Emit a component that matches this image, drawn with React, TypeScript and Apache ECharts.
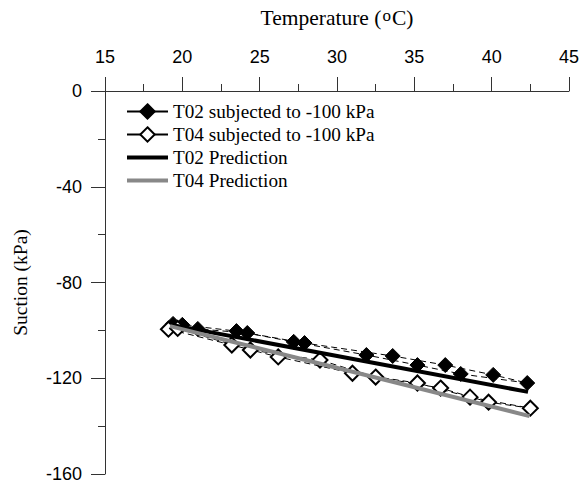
import React, { useEffect, useRef } from "react";
import * as echarts from "echarts";

// Tick values
const temperatureTicks = [15, 20, 25, 30, 35, 40, 45];
const suctionTicks = [0, -40, -80, -120, -160];

// T02 subjected to -100 kPa (measurement order: heating then cooling)
const t02Temperature = [19.4, 21.0, 24.2, 27.9, 33.6, 37.0, 40.1, 42.3, 38.0, 35.2, 31.9, 27.2, 23.5, 20.0];
const t02Suction = [-97.3, -99.4, -101.1, -105.3, -110.7, -114.5, -118.6, -122.0, -118.2, -114.5, -110.3, -104.8, -100.3, -97.7];

// T04 subjected to -100 kPa
const t04Temperature = [19.1, 23.2, 26.2, 31.0, 35.2, 38.6, 42.5, 39.8, 36.7, 32.5, 28.9, 24.4, 19.7];
const t04Suction = [-99.5, -106.1, -111.1, -117.9, -122.0, -127.9, -132.5, -130.0, -124.1, -119.5, -112.4, -108.2, -99.2];

// Predictions
const t02PredTemperature = [19.3, 42.35];
const t02PredSuction = [-97.7, -125.7];
const t04PredTemperature = [19.2, 42.45];
const t04PredSuction = [-98.2, -135.8];

const names = [
  "T02 subjected to -100 kPa",
  "T04 subjected to -100 kPa",
  "T02 Prediction",
  "T04 Prediction",
];

const zip = (xs: number[], ys: number[]) => xs.map((x, i) => [x, ys[i]]);

const SERIF = "'Liberation Serif', 'Times New Roman', serif";
const SANS = "'Liberation Sans', Arial, sans-serif";
const AXIS_COLOR = "#333";

export default function App() {
  const ref = useRef<HTMLDivElement>(null);

  useEffect(() => {
    if (!ref.current) return;
    const chart = echarts.init(ref.current, undefined, { renderer: "svg" });
    chart.setOption({
      animation: false,
      backgroundColor: "#fff",
      grid: {
        left: 105,
        right: 12,
        top: 91,
        bottom: 12,
        containLabel: false,
        outerBoundsMode: "none",
      },
      legend: {
        orient: "vertical",
        left: 120,
        top: 97,
        itemWidth: 41,
        itemHeight: 18,
        itemGap: 4,
        data: [
          { name: names[0] },
          { name: names[1] },
          { name: names[2], itemStyle: { opacity: 0 }, lineStyle: { width: 4 } },
          { name: names[3], itemStyle: { opacity: 0 }, lineStyle: { width: 4 } },
        ],
        lineStyle: { type: "solid" },
        textStyle: { fontFamily: SERIF, fontSize: 19.2, color: "#000" },
      },
      xAxis: {
        type: "value",
        position: "top",
        min: temperatureTicks[0],
        max: temperatureTicks[temperatureTicks.length - 1],
        interval: 5,
        name: "{a|Temperature (}{sup|o}{a|C)}",
        nameLocation: "middle",
        nameGap: 62,
        nameTextStyle: {
          color: "#000",
          rich: {
            a: { fontFamily: SERIF, fontSize: 21.5, color: "#000" },
            sup: { fontFamily: SERIF, fontSize: 17, color: "#000", verticalAlign: "top", padding: [0, 1, 0, 1] },
          },
        },
        axisLine: { onZero: false, lineStyle: { color: AXIS_COLOR, width: 1 } },
        axisTick: { show: true, length: 14, lineStyle: { color: AXIS_COLOR } },
        minorTick: { show: true, splitNumber: 2, length: 7, lineStyle: { color: AXIS_COLOR } },
        splitLine: { show: false },
        axisLabel: { margin: 25, fontFamily: SANS, fontSize: 18, color: "#000" },
      },
      yAxis: {
        type: "value",
        min: suctionTicks[suctionTicks.length - 1],
        max: suctionTicks[0],
        interval: 40,
        name: "Suction (kPa)",
        nameLocation: "middle",
        nameGap: 75,
        nameTextStyle: { fontFamily: SERIF, fontSize: 19.5, color: "#000" },
        axisLine: { onZero: false, lineStyle: { color: AXIS_COLOR, width: 1 } },
        axisTick: { show: true, length: 14, lineStyle: { color: AXIS_COLOR } },
        minorTick: { show: true, splitNumber: 2, length: 7, lineStyle: { color: AXIS_COLOR } },
        splitLine: { show: false },
        axisLabel: { margin: 23, fontFamily: SANS, fontSize: 18, color: "#000" },
      },
      series: [
        {
          name: names[0],
          type: "line",
          data: zip(t02Temperature, t02Suction),
          symbol: "diamond",
          symbolSize: 15,
          showAllSymbol: true,
          itemStyle: { color: "#000", borderColor: "#000", borderWidth: 1 },
          lineStyle: { color: "#000", width: 1, type: [6, 4] },
          z: 2,
        },
        {
          name: names[1],
          type: "line",
          data: zip(t04Temperature, t04Suction),
          symbol: "diamond",
          symbolSize: 15,
          showAllSymbol: true,
          itemStyle: { color: "#fff", borderColor: "#000", borderWidth: 2 },
          lineStyle: { color: "#000", width: 1, type: [6, 4] },
          z: 2,
        },
        {
          name: names[2],
          type: "line",
          data: zip(t02PredTemperature, t02PredSuction),
          symbol: "none",
          itemStyle: { color: "#000" },
          lineStyle: { color: "#000", width: 4 },
          z: 3,
        },
        {
          name: names[3],
          type: "line",
          data: zip(t04PredTemperature, t04PredSuction),
          symbol: "none",
          itemStyle: { color: "#888" },
          lineStyle: { color: "#888", width: 4 },
          z: 4,
        },
      ],
    });
    return () => chart.dispose();
  }, []);

  return (
    <div
      ref={ref}
      style={{ position: "absolute", left: 0, top: 0, width: 581, height: 486, background: "#fff" }}
    />
  );
}
